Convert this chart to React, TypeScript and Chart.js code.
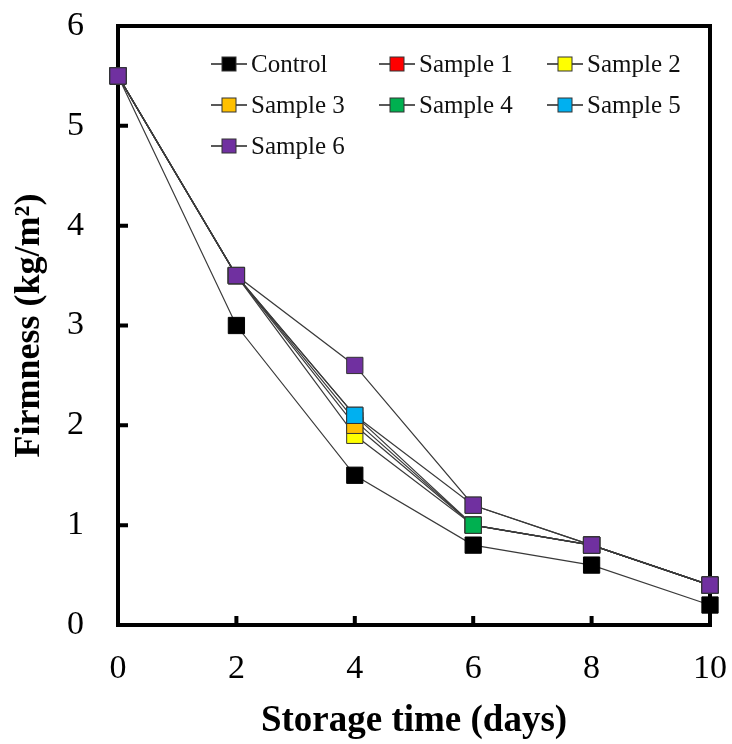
import React, { useEffect, useRef } from 'react';
import { Chart, registerables } from 'chart.js';

Chart.register(...registerables);

const days = [0, 2, 4, 6, 8, 10];
const seriesNames = ['Control', 'Sample 1', 'Sample 2', 'Sample 3', 'Sample 4', 'Sample 5', 'Sample 6'];
const control = [5.5, 3.0, 1.5, 0.8, 0.6, 0.2];
const sample1 = [5.5, 3.5, 2.05, 1.0, 0.8, 0.4];
const sample2 = [5.5, 3.5, 1.9, 1.0, 0.8, 0.4];
const sample3 = [5.5, 3.5, 2.0, 1.0, 0.8, 0.4];
const sample4 = [5.5, 3.5, 2.1, 1.0, 0.8, 0.4];
const sample5 = [5.5, 3.5, 2.1, 1.2, 0.8, 0.4];
const sample6 = [5.5, 3.5, 2.6, 1.2, 0.8, 0.4];
const seriesValues = [control, sample1, sample2, sample3, sample4, sample5, sample6];
const seriesColors = ['#000000', '#ff0000', '#ffff00', '#ffc000', '#00b050', '#00b0f0', '#7030a0'];
const xTickValues = [0, 2, 4, 6, 8, 10];
const yTickValues = [0, 1, 2, 3, 4, 5, 6];

const SERIF = "'Liberation Serif', 'Times New Roman', serif";

const framePlugin = {
  id: 'frame',
  beforeDatasetsDraw(chart: any) {
    const { ctx, chartArea } = chart;
    const xs = chart.scales.x;
    const ys = chart.scales.y;
    ctx.save();
    ctx.strokeStyle = '#000';
    ctx.lineWidth = 4;
    ctx.strokeRect(chartArea.left, chartArea.top, chartArea.right - chartArea.left, chartArea.bottom - chartArea.top);
    ctx.beginPath();
    yTickValues.slice(1, -1).forEach((v) => {
      const y = ys.getPixelForValue(v);
      ctx.moveTo(chartArea.left, y);
      ctx.lineTo(chartArea.left + 10, y);
    });
    xTickValues.slice(1, -1).forEach((v) => {
      const x = xs.getPixelForValue(v);
      ctx.moveTo(x, chartArea.bottom);
      ctx.lineTo(x, chartArea.bottom - 9);
    });
    ctx.stroke();
    ctx.restore();
  },
};

const legendPlugin = {
  id: 'customLegend',
  afterDraw(chart: any) {
    const { ctx } = chart;
    const colX = [229, 397, 565];
    const rowY = [64, 105, 146];
    ctx.save();
    chart.data.datasets.forEach((ds: any, i: number) => {
      const cx = colX[i % 3];
      const cy = rowY[Math.floor(i / 3)];
      ctx.strokeStyle = '#222';
      ctx.lineWidth = 1.5;
      ctx.beginPath();
      ctx.moveTo(cx - 18, cy);
      ctx.lineTo(cx + 18, cy);
      ctx.stroke();
      ctx.fillStyle = ds.backgroundColor;
      ctx.fillRect(cx - 7, cy - 7, 14, 14);
      ctx.lineWidth = 1;
      ctx.strokeStyle = '#333';
      ctx.strokeRect(cx - 7, cy - 7, 14, 14);
      ctx.fillStyle = '#111';
      ctx.font = `25px ${SERIF}`;
      ctx.textBaseline = 'middle';
      ctx.textAlign = 'left';
      ctx.fillText(ds.label, cx + 22, cy + 1);
    });
    ctx.restore();
  },
};

const zeroPad = (scale: any) => {
  scale.paddingTop = 0;
  scale.paddingBottom = 0;
  scale.paddingLeft = 0;
  scale.paddingRight = 0;
};

export default function App() {
  const canvasRef = useRef<HTMLCanvasElement | null>(null);

  useEffect(() => {
    if (!canvasRef.current) return;
    const datasets = seriesNames.map((name, i) => ({
      label: name,
      data: days.map((d, j) => ({ x: d, y: seriesValues[i][j] })),
      borderColor: '#3a3a3a',
      borderWidth: 1.2,
      backgroundColor: seriesColors[i],
      pointBackgroundColor: seriesColors[i],
      pointBorderColor: i === 0 ? '#000' : '#333',
      pointBorderWidth: 1,
      pointStyle: 'rect',
      pointRadius: 11.5,
      tension: 0,
      clip: false,
      order: seriesNames.length - 1 - i,
    }));
    const chart = new Chart(canvasRef.current, {
      type: 'line',
      data: { datasets },
      options: {
        responsive: false,
        animation: false,
        layout: { padding: { left: 0, right: 22, top: 26, bottom: 0 } },
        plugins: { legend: { display: false }, tooltip: { enabled: false } },
        scales: {
          x: {
            type: 'linear',
            min: 0,
            max: 10,
            afterBuildTicks: (scale: any) => {
              scale.ticks = xTickValues.map((v) => ({ value: v }));
            },
            afterFit: (scale: any) => {
              scale.height = 119;
              zeroPad(scale);
            },
            grid: { display: false },
            border: { display: false },
            ticks: { color: '#000', font: { family: SERIF, size: 34 }, padding: 16, maxRotation: 0 },
            title: {
              display: true,
              text: 'Storage time (days)',
              color: '#000',
              font: { family: SERIF, size: 37, weight: 'bold' },
              padding: { top: 0, bottom: 0 },
            },
          },
          y: {
            type: 'linear',
            min: 0,
            max: 6,
            afterBuildTicks: (scale: any) => {
              scale.ticks = yTickValues.map((v) => ({ value: v }));
            },
            afterFit: (scale: any) => {
              scale.width = 118;
              zeroPad(scale);
            },
            grid: { display: false },
            border: { display: false },
            ticks: { color: '#000', font: { family: SERIF, size: 34 }, padding: 26 },
            title: {
              display: true,
              text: 'Firmness (kg/m²)',
              color: '#000',
              font: { family: SERIF, size: 36, weight: 'bold' },
              padding: { top: 8, bottom: 0 },
            },
          },
        },
      },
      plugins: [framePlugin, legendPlugin],
    });
    return () => chart.destroy();
  }, []);

  return (
    <div style={{ position: 'absolute', left: 0, top: 0, width: 732, height: 744, background: '#fff' }}>
      <canvas ref={canvasRef} width={732} height={744} style={{ display: 'block' }} />
    </div>
  );
}
